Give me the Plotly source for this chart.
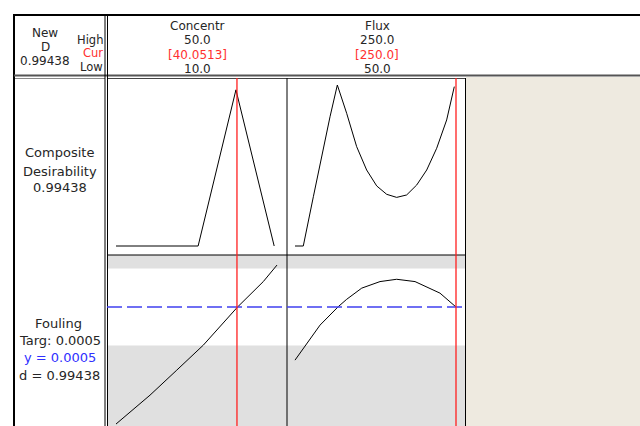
import plotly.graph_objects as go

# ---------------- data ----------------
factor_names = ["Concentr", "Flux"]
factor_high = ["50.0", "250.0"]
factor_cur_label = ["[40.0513]", "[250.0]"]
factor_low = ["10.0", "50.0"]
conc_cur = 40.0513
flux_cur = 250.0
composite_d = "0.99438"

# composite desirability vs Concentr
conc_d_x = [10, 30.4, 39.8, 49.3]
conc_d_y = [0.0, 0.0, 0.97, 0.0]
# composite desirability vs Flux
flux_d_x = [50, 60.3, 72.8, 83.1, 93.5, 102.6, 114.2, 126.6, 139.0, 151.5, 163.9, 176.3,
            188.7, 201.2, 213.6, 226.0, 238.4, 247.9]
flux_d_y = [0.0, 0.0, 0.306, 0.555, 0.803, 1.0, 0.824, 0.617, 0.472, 0.373, 0.321, 0.302,
            0.317, 0.379, 0.472, 0.607, 0.783, 0.99]

# Fouling response vs Concentr
conc_f_x = [10, 18.45, 25.1, 31.7, 40.2, 46.6, 50.0]
conc_f_y = [0.000196, 0.000271, 0.000336, 0.000401, 0.000500, 0.000566, 0.000609]
# Fouling response vs Flux
flux_f_x = [50, 81.1, 103.8, 114.2, 132.9, 155.6, 176.3, 199.1, 230.1, 248.8, 250]
flux_f_y = [0.000362, 0.000453, 0.000501, 0.000520, 0.000549, 0.000566, 0.000572, 0.000566, 0.000536, 0.000501, 0.000500]

fouling_target = 0.0005
fouling_lower = 0.0004
fouling_upper = 0.0006

# ---------------- layout helpers ----------------
W, H = 640, 426
def X(px): return px / W
def Y(py): return 1 - py / H

# pixel calibrations for the axis scales
def conc_at(px): return 10 + (px - 116) * 40 / 161
def flux_at(px): return 50 + (px - 295) * 200 / 161
def d_at(py): return (246 - py) / 161
def f_at(py): return fouling_target + (307 - py) * 0.0001 / 38.5

TXT = "#262626"
FONT = "DejaVu Sans"
FS = 13

fig = go.Figure()
line = dict(color="black", width=1)
fig.add_trace(go.Scatter(x=conc_d_x, y=conc_d_y, mode="lines", line=line, xaxis="x", yaxis="y"))
fig.add_trace(go.Scatter(x=flux_d_x, y=flux_d_y, mode="lines", line=line, xaxis="x2", yaxis="y2"))
fig.add_trace(go.Scatter(x=conc_f_x, y=conc_f_y, mode="lines", line=line, xaxis="x3", yaxis="y3"))
fig.add_trace(go.Scatter(x=flux_f_x, y=flux_f_y, mode="lines", line=line, xaxis="x4", yaxis="y4"))

ax = dict(showgrid=False, zeroline=False, showticklabels=False, ticks="", showline=False, fixedrange=True)
top_d = [Y(255), Y(78)]
bot_d = [0, Y(255)]
c_dom = [X(107), X(287)]
f_dom = [X(287), X(466)]
c_rng = [conc_at(107), conc_at(287)]
f_rng = [flux_at(287), flux_at(466)]
d_rng = [d_at(255), d_at(78)]
fo_rng = [f_at(426), f_at(255)]

fig.update_layout(
    width=W, height=H, margin=dict(l=0, r=0, t=0, b=0),
    paper_bgcolor="white", plot_bgcolor="rgba(0,0,0,0)", showlegend=False,
    font=dict(family=FONT, size=FS, color=TXT),
    xaxis=dict(ax, domain=c_dom, range=c_rng, anchor="y"),
    yaxis=dict(ax, domain=top_d, range=d_rng, anchor="x"),
    xaxis2=dict(ax, domain=f_dom, range=f_rng, anchor="y2"),
    yaxis2=dict(ax, domain=top_d, range=d_rng, anchor="x2"),
    xaxis3=dict(ax, domain=c_dom, range=c_rng, anchor="y3"),
    yaxis3=dict(ax, domain=bot_d, range=fo_rng, anchor="x3"),
    xaxis4=dict(ax, domain=f_dom, range=f_rng, anchor="y4"),
    yaxis4=dict(ax, domain=bot_d, range=fo_rng, anchor="x4"),
)

shapes = []
# beige background at right
shapes.append(dict(type="rect", xref="paper", yref="paper", x0=X(466), x1=1, y0=0, y1=Y(77),
                   fillcolor="#EEEAE0", line=dict(width=0), layer="below"))
# gray unacceptable bands in the Fouling row
for xr in ["x3", "x4"]:
    shapes.append(dict(type="rect", xref=xr + " domain", yref="y3", x0=0, x1=1, y0=fouling_upper, y1=fo_rng[1],
                       fillcolor="#E0E0E0", line=dict(width=0), layer="below"))
    shapes.append(dict(type="rect", xref=xr + " domain", yref="y3", x0=0, x1=1, y0=fo_rng[0], y1=fouling_lower,
                       fillcolor="#E0E0E0", line=dict(width=0), layer="below"))

def hline(py, x0, x1, color="black", w=1):
    shapes.append(dict(type="line", xref="paper", yref="paper", x0=X(x0), x1=X(x1), y0=Y(py), y1=Y(py),
                       line=dict(color=color, width=w)))
def vline(px, y0, y1, color="black", w=1):
    shapes.append(dict(type="line", xref="paper", yref="paper", x0=X(px), x1=X(px), y0=Y(y0), y1=Y(y1),
                       line=dict(color=color, width=w)))

# frame lines
hline(15, 13, 640, w=2)
vline(14, 14, 426, w=2)
hline(75.5, 14, 640, color="#555555", w=2)
hline(78.5, 15, 105, color="#888888", w=1)
hline(78.5, 107, 466, color="#444444", w=1)
vline(105, 15, 426)
vline(107.5, 15, 426)
vline(287, 78, 426)
vline(465.5, 78, 426)
hline(255, 107, 466)

# target dashed line
shapes.append(dict(type="line", xref="paper", yref="y3", x0=X(107), x1=X(466), y0=fouling_target, y1=fouling_target,
                   line=dict(color="#4040F0", width=1.5, dash="15px,5px")))
# current-setting red lines
for xr, cur in [("x", conc_cur), ("x2", flux_cur)]:
    shapes.append(dict(type="line", xref=xr, yref="paper", x0=cur, x1=cur, y0=0, y1=Y(78),
                       line=dict(color="#FF2020", width=1.3)))
fig.update_layout(shapes=shapes)

ann = []
def text(px, py, s, color=TXT, xanchor="center", size=FS):
    ann.append(dict(x=X(px), y=Y(py), xref="paper", yref="paper", text=s, showarrow=False, borderpad=0,
                    xanchor=xanchor, yanchor="middle", font=dict(color=color, family=FONT, size=size)))

RED = "#FF3030"
BLUE = "#3030FF"
HS = 12
text(45, 33, "New", size=HS)
text(45, 47, "D", size=HS)
text(45, 61, composite_d, size=HS)
text(104, 40, "High", xanchor="right", size=11.5)
text(104, 53.5, "Cur", color=RED, xanchor="right", size=11.5)
text(104, 67, "Low", xanchor="right", size=11.5)
for cx, i in [(197, 0), (377, 1)]:
    text(cx, 26.5, factor_names[i], size=HS)
    text(cx, 40.5, factor_high[i], size=HS)
    text(cx, 54.5, factor_cur_label[i], color=RED, size=HS)
    text(cx, 68.5, factor_low[i], size=HS)

text(59.5, 153, "Composite")
text(59.5, 171, "Desirability")
text(59.5, 188, composite_d)
text(58, 323, "Fouling")
text(59.5, 340, "Targ: 0.0005")
text(59.5, 357, "y = 0.0005", color=BLUE)
text(59.5, 375, "d = " + composite_d)
fig.update_layout(annotations=ann)

fig.write_html("out.html", config={"displayModeBar": False},
               post_script="document.body.style.margin='0px';document.body.style.overflow='hidden';")
